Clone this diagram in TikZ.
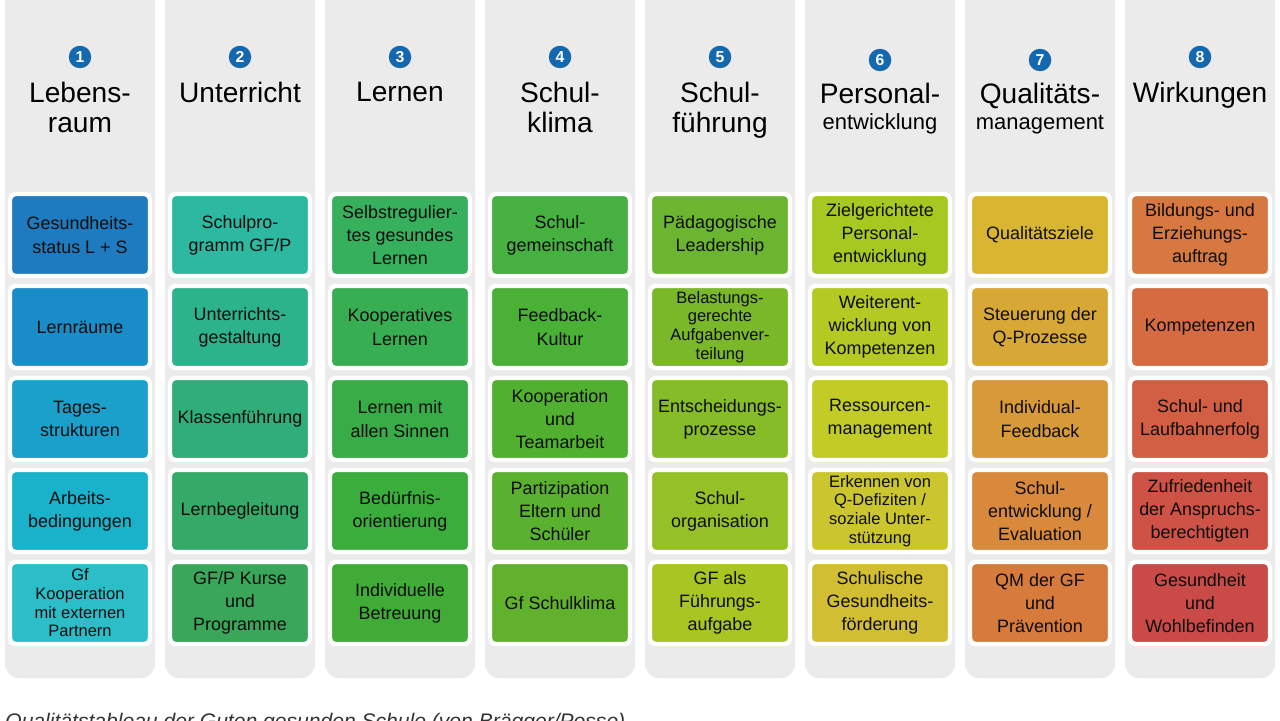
\documentclass[tikz,border=0pt]{standalone}
\usepackage{fontspec}
\setmainfont{Liberation Sans}
\usetikzlibrary{positioning}
\definecolor{numblue}{HTML}{1468AE}
\definecolor{colgray}{HTML}{EBEBEB}
\newcommand*{\cell}[5][]{%
  \definecolor{cellcol}{HTML}{#4}%
  \node[cellbox,fill=cellcol,#1] (c#2#3) at ({80+160*(#2-1)},{235+92*(#3-1)}) {#5};
}
\begin{document}
\begin{tikzpicture}[x=0.02cm,y=-0.02cm,
  cellbox/.style={draw=white,line width=2.5pt,rounded corners=3pt,minimum width=140*0.02cm,
    minimum height=82*0.02cm,align=center,inner sep=1pt,
    font=\fontsize{10.2}{13.2}\selectfont,text=black!95},
  tight/.style={font=\fontsize{9.4}{10.6}\selectfont},
  numdot/.style={circle,fill=numblue,text=white,inner sep=0pt,minimum size=0.45cm,
    font=\bfseries\fontsize{9}{9}\selectfont},
  title/.style={align=center,font=\fontsize{16}{17}\selectfont,text=black}]
  \useasboundingbox (0,0) rectangle (1280,720);
  % grey columns
  \foreach \i in {1,...,8}
    \fill[colgray,rounded corners=8pt] ({80+160*(\i-1)-75},-30) rectangle ({80+160*(\i-1)+75},678);
  % headers
  \foreach \i/\t in {1/{Lebens-\\raum},2/Unterricht,3/Lernen,4/{Schul-\\klima},5/{Schul-\\führung},8/Wirkungen}{
    \node[numdot] (n\i) at ({80+160*(\i-1)},57) {\i};
    \node[title,below=4pt of n\i] (t\i) {\t};
  }
  \node[numdot] (n6) at (880,60) {6};
  \node[title,below=3pt of n6] (t6) {Personal-\\[-2pt]{\fontsize{12.5}{13}\selectfont entwicklung}};
  \node[numdot] (n7) at (1040,60) {7};
  \node[title,below=3pt of n7] (t7) {Qualitäts-\\[-2pt]{\fontsize{12.5}{13}\selectfont management}};
  % column 1
  \cell{1}{1}{1E7BBF}{Gesundheits-\\status L + S}
  \cell{1}{2}{1A8CC8}{Lernräume}
  \cell{1}{3}{1AA0CB}{Tages-\\strukturen}
  \cell{1}{4}{1AB2CB}{Arbeits-\\bedingungen}
  \cell[tight]{1}{5}{2BBEC8}{Gf\\Kooperation\\mit externen\\Partnern}
  % column 2
  \cell{2}{1}{2DB8A2}{Schulpro-\\gramm GF/P}
  \cell{2}{2}{2DB38C}{Unterrichts-\\gestaltung}
  \cell{2}{3}{30AE7A}{Klassenführung}
  \cell{2}{4}{35AA68}{Lernbegleitung}
  \cell{2}{5}{3AA65A}{GF/P Kurse\\und\\Programme}
  % column 3
  \cell{3}{1}{36B05C}{Selbstregulier-\\tes gesundes\\Lernen}
  \cell{3}{2}{38AE52}{Kooperatives\\Lernen}
  \cell{3}{3}{38AD47}{Lernen mit\\allen Sinnen}
  \cell{3}{4}{3AAD3C}{Bedürfnis-\\orientierung}
  \cell{3}{5}{40AB36}{Individuelle\\Betreuung}
  % column 4
  \cell{4}{1}{46B040}{Schul-\\gemeinschaft}
  \cell{4}{2}{4AB036}{Feedback-\\Kultur}
  \cell{4}{3}{52B030}{Kooperation\\und\\Teamarbeit}
  \cell{4}{4}{5AB02F}{Partizipation\\Eltern und\\Schüler}
  \cell{4}{5}{62B12D}{Gf Schulklima}
  % column 5
  \cell{5}{1}{6CB530}{Pädagogische\\Leadership}
  \cell[tight]{5}{2}{7AB82A}{Belastungs-\\gerechte\\Aufgabenver-\\teilung}
  \cell{5}{3}{86BC28}{Entscheidungs-\\prozesse}
  \cell{5}{4}{96C028}{Schul-\\organisation}
  \cell{5}{5}{A8C522}{GF als\\Führungs-\\aufgabe}
  % column 6
  \cell{6}{1}{A6C821}{Zielgerichtete\\Personal-\\entwicklung}
  \cell{6}{2}{B4CA22}{Weiterent-\\wicklung von\\Kompetenzen}
  \cell{6}{3}{C3CB26}{Ressourcen-\\management}
  \cell[tight]{6}{4}{CCC62E}{Erkennen von\\Q-Defiziten /\\soziale Unter-\\stützung}
  \cell{6}{5}{D2BE32}{Schulische\\Gesundheits-\\förderung}
  % column 7
  \cell{7}{1}{D8B632}{Qualitätsziele}
  \cell{7}{2}{D8A836}{Steuerung der\\Q-Prozesse}
  \cell{7}{3}{D89A39}{Individual-\\Feedback}
  \cell{7}{4}{D8893B}{Schul-\\entwicklung /\\Evaluation}
  \cell{7}{5}{D67B3C}{QM der GF\\und\\Prävention}
  % column 8
  \cell{8}{1}{D6783F}{Bildungs-  und\\Erziehungs-\\auftrag}
  \cell{8}{2}{D66A41}{Kompetenzen}
  \cell{8}{3}{D25E43}{Schul- und\\Laufbahnerfolg}
  \cell{8}{4}{CE5245}{Zufriedenheit\\der Anspruchs-\\berechtigten}
  \cell{8}{5}{CA4A48}{Gesundheit\\und\\Wohlbefinden}
  % caption, cut by the page edge
  \node[anchor=north west,inner sep=0pt,font=\itshape\fontsize{12}{12}\selectfont,text=black!80] (cap) at (5,713)
    {Qualitätstableau der Guten gesunden Schule (von Brägger/Posse)};
\end{tikzpicture}
\end{document}
